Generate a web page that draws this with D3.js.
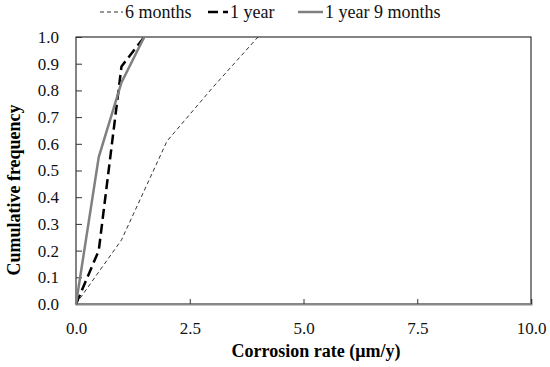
<!DOCTYPE html>
<html>
<head>
<meta charset="utf-8">
<script src="https://cdn.jsdelivr.net/npm/d3@7"></script>
<style>
  body { margin: 0; background: #fff; }
  svg { font-family: "Liberation Serif", "DejaVu Serif", serif; }
</style>
</head>
<body>
<svg id="chart" width="550" height="367"></svg>
<script>
// data
var rate6m = [0, 1, 2, 3, 4];
var freq6m = [0, 0.24, 0.61, 0.81, 1.0];
var rate1y = [0, 0.5, 1, 1.5];
var freq1y = [0, 0.2, 0.89, 1.0];
var rate1y9m = [0, 0.5, 1, 1.5];
var freq1y9m = [0, 0.55, 0.83, 1.0];
var xTicks = [0, 2.5, 5, 7.5, 10];
var yTicks = [0, 0.1, 0.2, 0.3, 0.4, 0.5, 0.6, 0.7, 0.8, 0.9, 1.0];
var seriesNames = ["6 months", "1 year", "1 year 9 months"];

var series = [
  {name: seriesNames[0], xs: rate6m, ys: freq6m, color: "#333", width: 1, dash: "4,3"},
  {name: seriesNames[1], xs: rate1y, ys: freq1y, color: "#000", width: 2.5, dash: "10,5"},
  {name: seriesNames[2], xs: rate1y9m, ys: freq1y9m, color: "#808080", width: 2.5, dash: null}
];

var svg = d3.select("#chart");
var pLeft = 76, pRight = 531, pTop = 37, pBottom = 304;

var x = d3.scaleLinear().domain([0, 10]).range([pLeft, pRight]);
var y = d3.scaleLinear().domain([0, 1]).range([pBottom, pTop]);

// frame
svg.append("rect")
  .attr("x", pLeft).attr("y", pTop)
  .attr("width", pRight - pLeft).attr("height", pBottom - pTop)
  .attr("fill", "none").attr("stroke", "#333").attr("stroke-width", 1.2);

// y axis
var yAxis = svg.append("g")
  .attr("transform", "translate(" + pLeft + ",0)")
  .call(d3.axisLeft(y).tickValues(yTicks).tickSize(-6).tickPadding(17).tickFormat(d3.format(".1f")));
yAxis.select(".domain").remove();
yAxis.selectAll("line").attr("stroke", "#333");
yAxis.selectAll("text").attr("font-size", 17).attr("font-family", "Liberation Serif").attr("fill", "#111");

// x axis
var xAxis = svg.append("g")
  .attr("transform", "translate(0," + pBottom + ")")
  .call(d3.axisBottom(x).tickValues(xTicks).tickSize(-5).tickPadding(18).tickFormat(d3.format(".1f")));
xAxis.select(".domain").attr("stroke", "#888").attr("stroke-width", 2);
xAxis.selectAll("line").attr("stroke", "#333");
xAxis.selectAll("text").attr("font-size", 17).attr("font-family", "Liberation Serif").attr("fill", "#111");

// lines
var line = d3.line()
  .x(function(d) { return x(d[0]); })
  .y(function(d) { return y(d[1]); });

series.forEach(function(s) {
  var pts = s.xs.map(function(v, i) { return [v, s.ys[i]]; });
  svg.append("path")
    .datum(pts)
    .attr("d", line)
    .attr("fill", "none")
    .attr("stroke", s.color)
    .attr("stroke-width", s.width)
    .attr("stroke-dasharray", s.dash);
});

// axis titles
svg.append("text")
  .attr("x", 316).attr("y", 357)
  .attr("text-anchor", "middle")
  .attr("font-size", 18).attr("font-weight", "bold")
  .text("Corrosion rate (\u03bcm/y)");

svg.append("text")
  .attr("transform", "translate(20,190) rotate(-90)")
  .attr("text-anchor", "middle")
  .attr("font-size", 18).attr("font-weight", "bold")
  .text("Cumulative frequency");

// legend
var legendPos = [100, 208, 298];
var legendLen = [23, 20, 25];
var legend = svg.append("g");
series.forEach(function(s, i) {
  var lx = legendPos[i];
  legend.append("line")
    .attr("x1", lx).attr("x2", lx + legendLen[i])
    .attr("y1", 12).attr("y2", 12)
    .attr("stroke", s.color)
    .attr("stroke-width", s.width)
    .attr("stroke-dasharray", s.dash);
  legend.append("text")
    .attr("x", lx + legendLen[i] + 2).attr("y", 18)
    .attr("font-size", 18).attr("fill", "#111")
    .text(s.name);
});
</script>
</body>
</html>
